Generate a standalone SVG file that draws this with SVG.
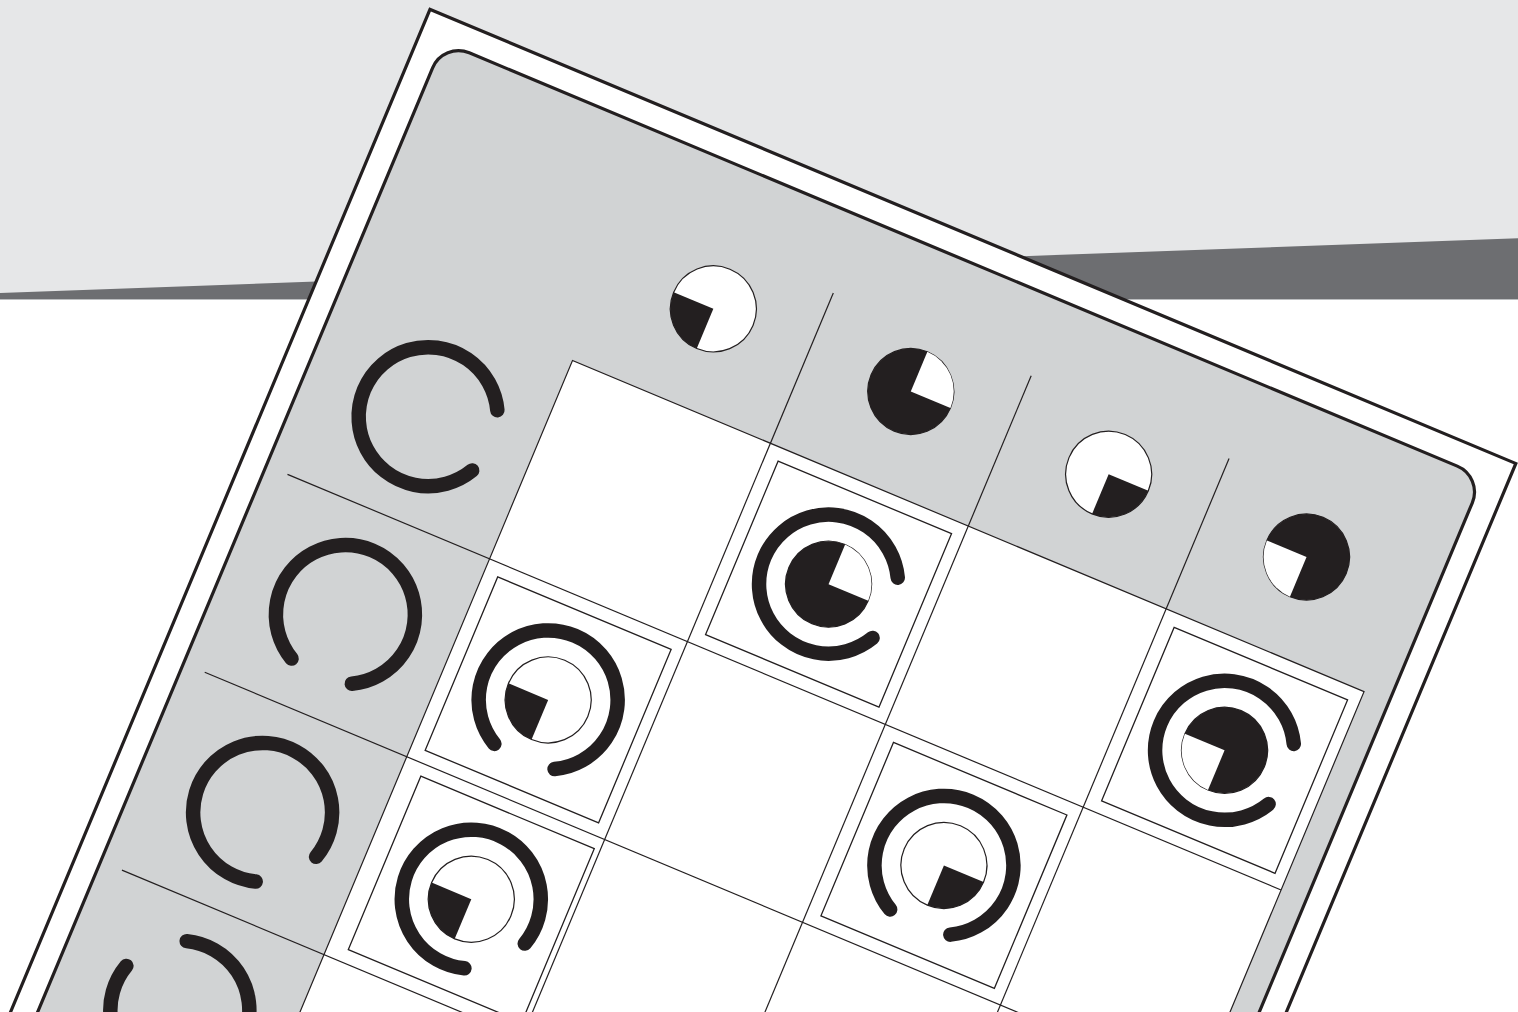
<svg xmlns="http://www.w3.org/2000/svg" width="1518" height="1012" viewBox="0 0 1518 1012">
<style>
.arc{fill:none;stroke:#231f20;stroke-width:14.5;stroke-linecap:round}
.ln{fill:none;stroke:#231f20;stroke-width:1.2}
.area{fill:#fff;stroke:#231f20;stroke-width:1.2}
.box{fill:#fff;stroke:#231f20;stroke-width:1.3}
.wc{fill:#fff;stroke:#231f20;stroke-width:1.2}
.kc{fill:#231f20;stroke:#231f20;stroke-width:1.2}
.kw{fill:#231f20}
.ww{fill:#fff}
</style>
<defs>
<g id="pie0"><circle r="43" class="wc"/><path class="kw" d="M0,0 L0,43 A43,43 0 0 1 -43,0 Z"/></g>
<g id="pie1"><circle r="43" class="kc"/><path class="ww" d="M0,0 L0,-43 A43,43 0 0 1 43,0 Z"/></g>
<g id="pie2"><circle r="43" class="wc"/><path class="kw" d="M0,0 L43,0 A43,43 0 0 1 0,43 Z"/></g>
<g id="pie3"><circle r="43" class="kc"/><path class="ww" d="M0,0 L0,43 A43,43 0 0 1 -43,0 Z"/></g>
<path id="arc0" class="arc" d="M61.36,32.63 A69.5,69.5 0 1 1 61.36,-32.63"/>
<path id="arc1" class="arc" d="M-32.63,61.36 A69.5,69.5 0 1 1 32.63,61.36"/>
<path id="arc2" class="arc" d="M20.32,66.46 A69.5,69.5 0 1 1 66.46,20.32"/>
<path id="arc3" class="arc" d="M-20.32,-66.46 A69.5,69.5 0 1 1 -66.46,-20.32"/>
<rect id="cellbox" x="-94" y="-94" width="188" height="188" class="box"/>
</defs>
<g id="background">
<rect width="1518" height="1012" fill="#fff"/>
<rect width="1518" height="299" fill="#e6e7e8"/>
<polygon points="0,293 1518,238.3 1518,299 0,299" fill="#6d6e71"/>
<rect x="0" y="299" width="1518" height="1" fill="#bcbec0"/>
</g>
<g id="card" transform="translate(430,9.3) rotate(22.7)">
<rect id="card-outer" x="0" y="0" width="1177" height="1700" fill="#fff" stroke="#231f20" stroke-width="3.2"/>
<rect id="card-inner" x="25" y="25" width="1127" height="1650" rx="28" fill="#d1d3d4" stroke="#231f20" stroke-width="3.2"/>
<rect id="grid-area" x="267" y="269" width="858" height="1300" class="area"/>
<g id="connectors">
<line class="ln" x1="481.5" y1="106" x2="481.5" y2="1569"/>
<line class="ln" x1="696" y1="106" x2="696" y2="1569"/>
<line class="ln" x1="910.5" y1="106" x2="910.5" y2="1569"/>
<line class="ln" x1="48" y1="484" x2="1125" y2="484"/>
<line class="ln" x1="48" y1="698.5" x2="1125" y2="698.5"/>
<line class="ln" x1="48" y1="913" x2="1125" y2="913"/>
<line class="ln" x1="48" y1="1127.5" x2="1125" y2="1127.5"/>
</g>
<g id="col-header-0" transform="translate(377,167)"><use href="#pie0"/></g>
<g id="col-header-1" transform="translate(591,167)"><use href="#pie1"/></g>
<g id="col-header-2" transform="translate(805.5,167)"><use href="#pie2"/></g>
<g id="col-header-3" transform="translate(1020,167)"><use href="#pie3"/></g>
<g id="row-header-0" transform="translate(155.5,376.5)"><use href="#arc0"/></g>
<g id="row-header-1" transform="translate(155.5,591)"><use href="#arc1"/></g>
<g id="row-header-2" transform="translate(155.5,805.5)"><use href="#arc2"/></g>
<g id="row-header-3" transform="translate(155.5,1020)"><use href="#arc3"/></g>
<g id="cell-r0-c1" transform="translate(589.5,376.5)"><use href="#cellbox"/><use href="#arc0"/><use href="#pie1"/></g>
<g id="cell-r0-c3" transform="translate(1019,377)"><use href="#cellbox"/><use href="#arc0"/><use href="#pie3"/></g>
<g id="cell-r1-c0" transform="translate(375.5,591.5)"><use href="#cellbox"/><use href="#arc1"/><use href="#pie0"/></g>
<g id="cell-r1-c2" transform="translate(804.5,591.5)"><use href="#cellbox"/><use href="#arc1"/><use href="#pie2"/></g>
<g id="cell-r2-c0" transform="translate(381.5,805)"><use href="#cellbox"/><use href="#arc2"/><use href="#pie0"/></g>
</g>
</svg>
